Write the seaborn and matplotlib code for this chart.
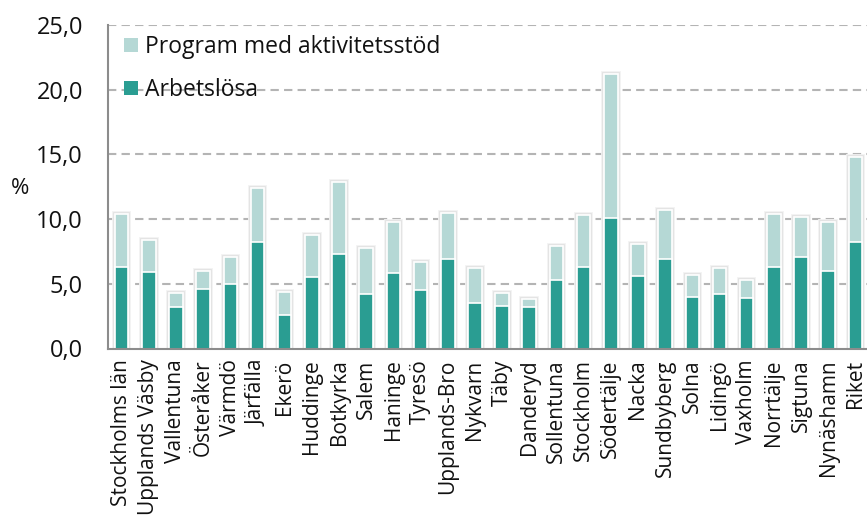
import matplotlib
matplotlib.use("Agg")
import matplotlib.pyplot as plt
import matplotlib.patheffects as pe
from matplotlib.patches import Patch
import seaborn as sns
import pandas as pd
import numpy as np

categories = ["Stockholms län", "Upplands Väsby", "Vallentuna", "Österåker", "Värmdö",
              "Järfälla", "Ekerö", "Huddinge", "Botkyrka", "Salem", "Haninge", "Tyresö",
              "Upplands-Bro", "Nykvarn", "Täby", "Danderyd", "Sollentuna", "Stockholm",
              "Södertälje", "Nacka", "Sundbyberg", "Solna", "Lidingö", "Vaxholm",
              "Norrtälje", "Sigtuna", "Nynäshamn", "Riket"]
arbetslosa = [6.3, 5.9, 3.2, 4.6, 5.0, 8.2, 2.6, 5.5, 7.3, 4.2, 5.8, 4.5, 6.9, 3.5,
              3.3, 3.2, 5.3, 6.3, 10.1, 5.6, 6.9, 4.0, 4.2, 3.9, 6.3, 7.1, 6.0, 8.2]
program = [4.1, 2.5, 1.1, 1.4, 2.1, 4.2, 1.8, 3.3, 5.6, 3.6, 4.0, 2.2, 3.6, 2.7,
           1.0, 0.6, 2.6, 4.0, 11.1, 2.5, 3.8, 1.7, 2.0, 1.4, 4.1, 3.1, 3.8, 6.6]
yticks = [0, 5, 10, 15, 20, 25]
ytick_labels = ["0,0", "5,0", "10,0", "15,0", "20,0", "25,0"]
legend_labels = ["Program med aktivitetsstöd", "Arbetslösa"]

DARK = "#2A9D92"
LIGHT = "#B5D8D5"

sns.set_style("white")
plt.rcParams["font.family"] = ["Open Sans", "DejaVu Sans"]

df = pd.DataFrame({"kommun": categories,
                   "arbetslosa": arbetslosa,
                   "total": np.array(arbetslosa) + np.array(program)})

W, H = 867, 516
fig = plt.figure(figsize=(W / 100, H / 100), dpi=100)
ax = fig.add_axes([108 / W, (H - 348.5) / H, (869 - 108) / W, (348.5 - 25) / H])

sns.barplot(data=df, x="kommun", y="total", color=LIGHT, width=0.5,
            edgecolor="white", linewidth=1.2, saturation=1, ax=ax, zorder=3)
n_light = len(ax.patches)
for p in ax.patches[:n_light]:
    p.set_path_effects([pe.Stroke(linewidth=4.2, foreground="#f2f2f2"),
                        pe.Stroke(linewidth=2.8, foreground="#e4e4e4"),
                        pe.Normal()])
sns.barplot(data=df, x="kommun", y="arbetslosa", color=DARK, width=0.5,
            edgecolor="white", linewidth=1.2, saturation=1, ax=ax, zorder=4)

ax.set_xlim(-0.5, len(categories) - 0.5)
ax.set_ylim(0, 25)
ax.set_yticks(yticks)
ax.set_yticklabels(ytick_labels, fontsize=17, color="#111111")
ax.set_xticks(np.arange(len(categories)))
ax.set_xticklabels(categories, rotation=90, fontsize=15, color="#111111")
ax.tick_params(axis="x", length=0, pad=8)
ax.set_xticks(np.arange(len(categories) + 1) - 0.5, minor=True)
ax.tick_params(axis="x", which="minor", length=6, width=1.3, color="#8c8c8c", direction="out")
ax.tick_params(axis="y", length=9, width=1.3, color="#8c8c8c", direction="out", pad=9)

ax.set_xlabel("")
ax.set_ylabel("")
fig.text(20 / W, 1 - 188 / H, "%", fontsize=16, ha="center", va="center", color="#111111")

for y in yticks[1:]:
    ax.axhline(y, color="#b4b4b4", linestyle=(0, (4, 2.5)), linewidth=1.5, zorder=1)

for s in ["top", "right"]:
    ax.spines[s].set_visible(False)
for s in ["left", "bottom"]:
    ax.spines[s].set_color("#8c8c8c")
    ax.spines[s].set_linewidth(1.5)
    ax.spines[s].set_zorder(5)

handles = [Patch(facecolor=LIGHT, edgecolor="none"), Patch(facecolor=DARK, edgecolor="none")]
leg = ax.legend(handles, legend_labels, loc="upper left", bbox_to_anchor=(124 / W, 1 - 35 / H),
                bbox_transform=fig.transFigure, frameon=False, fontsize=16.5,
                handlelength=0.6, handleheight=0.6, handletextpad=0.3,
                labelspacing=0.83, borderpad=0, borderaxespad=0)
for t in leg.get_texts():
    t.set_color("#111111")

fig.savefig("out.png", dpi=100)
